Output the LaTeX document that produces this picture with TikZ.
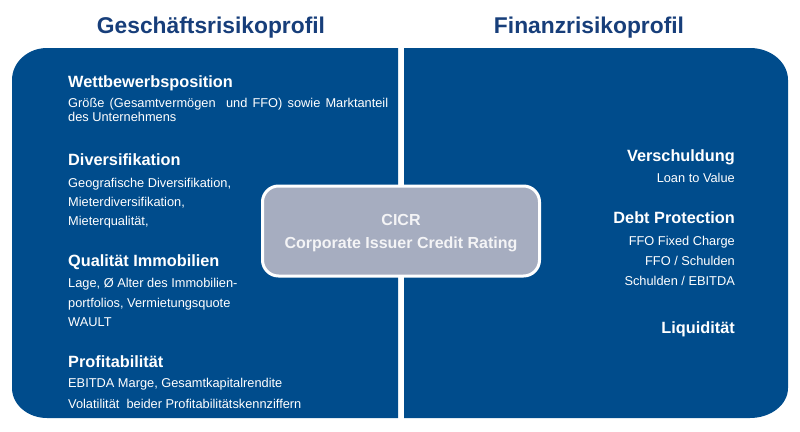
\documentclass[tikz,border=0pt]{standalone}
\usepackage{fontspec}
\setmainfont{Liberation Sans}
\definecolor{panelblue}{RGB}{0,76,140}
\definecolor{titleblue}{RGB}{23,62,122}
\definecolor{cicrgray}{RGB}{166,173,192}
\definecolor{cicrtext}{RGB}{244,244,246}
\begin{document}
\begin{tikzpicture}[x=1pt,y=-1pt,
  head/.style={font=\fontsize{16.3}{18}\selectfont\bfseries, text=white, inner sep=0pt},
  bodytxt/.style={font=\fontsize{12.8}{15}\selectfont, text=white, inner sep=0pt},
  ttl/.style={font=\fontsize{22.8}{26}\selectfont\bfseries, text=titleblue, inner sep=0pt, anchor=base},
  ctxt/.style={font=\fontsize{16}{18}\selectfont\bfseries, text=cicrtext, inner sep=0pt, anchor=base},
  lt/.style={anchor=base west},
  rt/.style={anchor=base east}]
\useasboundingbox (0,0) rectangle (800,431);
% panels
\fill[panelblue] (398,48) -- (47,48) .. controls (27.7,48) and (12,62.3) .. (12,80)
  -- (12,388) .. controls (12,404.6) and (27.7,418) .. (47,418) -- (398,418) -- cycle;
\fill[panelblue] (404,48) -- (750,48) .. controls (771,48) and (788,62.3) .. (788,80)
  -- (788,388) .. controls (788,404.6) and (771,418) .. (750,418) -- (404,418) -- cycle;
% titles
\node[ttl] (t1) at (211,33) {Geschäftsrisikoprofil};
\node[ttl] (t2) at (589,33) {Finanzrisikoprofil};
% left texts
\node[head,lt] (h1) at (68,87) {Wettbewerbsposition};
\node[bodytxt,lt] (b11) at (68,107) {\makebox[320pt][s]{Größe (Gesamtvermögen\ \ und FFO) sowie Marktanteil}};
\node[bodytxt,lt] (b12) at (68,121) {des Unternehmens};
\node[head,lt] (h2) at (68,165) {Diversifikation};
\node[bodytxt,lt] (b21) at (68,187) {Geografische Diversifikation,};
\node[bodytxt,lt] (b22) at (68,206) {Mieterdiversifikation,};
\node[bodytxt,lt] (b23) at (68,225) {Mieterqualität,};
\node[head,lt] (h3) at (68,266) {Qualität Immobilien};
\node[bodytxt,lt] (b31) at (68,287) {Lage, Ø Alter des Immobilien-};
\node[bodytxt,lt] (b32) at (68,307) {portfolios, Vermietungsquote};
\node[bodytxt,lt] (b33) at (68,326) {WAULT};
\node[head,lt] (h4) at (68,367) {Profitabilität};
\node[bodytxt,lt] (b41) at (68,387) {EBITDA Marge, Gesamtkapitalrendite};
\node[bodytxt,lt] (b42) at (68,408) {Volatilität\ \ beider Profitabilitätskennziffern};
% right texts
\node[head,rt] (h5) at (735,161) {Verschuldung};
\node[bodytxt,rt] (b51) at (735,182) {Loan to Value};
\node[head,rt] (h6) at (735,223) {Debt Protection};
\node[bodytxt,rt] (b61) at (735,245) {FFO Fixed Charge};
\node[bodytxt,rt] (b62) at (735,265) {FFO / Schulden};
\node[bodytxt,rt] (b63) at (735,285) {Schulden / EBITDA};
\node[head,rt] (h7) at (735,333) {Liquidität};
% centre box
\node[draw=white, line width=3pt, fill=cicrgray, rounded corners=16pt,
  minimum width=277pt, minimum height=90pt, inner sep=0pt] (cicr) at (401,231) {};
\node[ctxt] (c1) at (401,225) {CICR};
\node[ctxt] (c2) at (401,248) {Corporate Issuer Credit Rating};
\end{tikzpicture}
\end{document}
